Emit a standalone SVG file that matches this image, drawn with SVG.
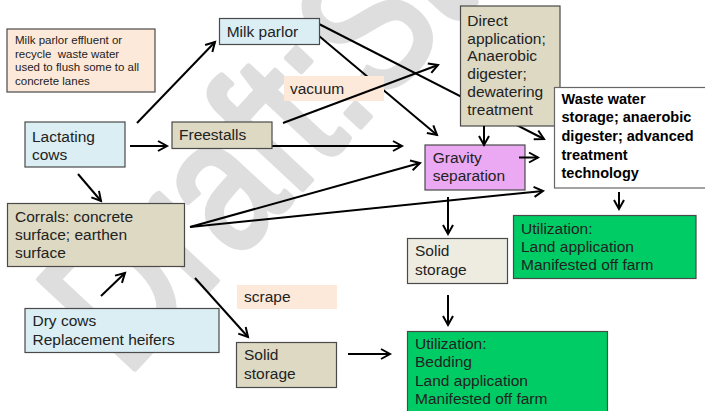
<svg xmlns="http://www.w3.org/2000/svg" width="705" height="411" viewBox="0 0 705 411">
<defs>
<style>
text{font-family:"Liberation Sans",Arial,sans-serif;font-size:15.5px;fill:#222}
.sm{font-size:11.5px}
.bd{font-weight:bold;font-size:14.5px;fill:#000}
.box{stroke:#4a4a4a;stroke-width:1.2}
.blue{fill:#daeef3}
.tan{fill:#ddd9c3}
.peach{fill:#fde9d9}
.green{fill:#00cc66}
.conn{stroke:#000;stroke-width:2;fill:none;marker-end:url(#ah)}
.wm{font-size:190px;fill:#dedede;stroke:#dedede;stroke-width:6;stroke-linejoin:round}
</style>
<marker id="ah" markerUnits="userSpaceOnUse" markerWidth="14" markerHeight="14" viewBox="0 0 14 14" refX="11" refY="7" orient="auto">
<path d="M2,2 L11,7 L2,12" stroke="#000" stroke-width="2" fill="none"/>
</marker>
</defs>
<rect width="705" height="411" fill="#fff"/>
<text class="wm" transform="translate(126,378) rotate(-47) scale(0.8,1)">Draft:St</text>

<g id="connectors-back">
<line class="conn" x1="319" y1="24" x2="544" y2="139"/>
<line class="conn" x1="319" y1="36" x2="437" y2="135"/>
</g>

<g id="vacuum"><rect class="peach" x="284" y="76" width="100" height="25"/><text x="290" y="94">vacuum</text></g>

<g id="connectors">
<line class="conn" x1="137" y1="123" x2="215" y2="42"/>
<line class="conn" x1="130" y1="146" x2="167" y2="146"/>
<line class="conn" x1="78" y1="174" x2="101" y2="201"/>
<line class="conn" x1="283" y1="123" x2="438" y2="65"/>
<line class="conn" x1="272" y1="146" x2="402" y2="146"/>
<line class="conn" x1="190" y1="227" x2="420" y2="163"/>
<line class="conn" x1="190" y1="227" x2="543" y2="191"/>
<line class="conn" x1="448" y1="197" x2="448" y2="234"/>
<line class="conn" x1="619" y1="192" x2="619" y2="209"/>
<line class="conn" x1="448" y1="295" x2="448" y2="325"/>
<line class="conn" x1="348" y1="354" x2="390" y2="354"/>
<line class="conn" x1="195" y1="278" x2="248" y2="337"/>
<line class="conn" x1="101" y1="296" x2="125" y2="273"/>
</g>

<g id="note"><rect class="box peach" x="7" y="29" width="148" height="63"/>
<text class="sm" x="15" y="44">Milk parlor effluent or</text>
<text class="sm" x="15" y="57.5" style="white-space:pre">recycle  waste water</text>
<text class="sm" x="15" y="71">used to flush some to all</text>
<text class="sm" x="15" y="84.5">concrete lanes</text></g>

<g id="lactating"><rect class="box blue" x="25" y="122" width="100" height="45"/>
<text x="32" y="142">Lactating</text><text x="32" y="159.5">cows</text></g>

<g id="milkparlor"><rect class="box blue" x="219.5" y="18.5" width="100" height="26"/>
<text x="226.7" y="36.5">Milk parlor</text></g>

<g id="freestalls"><rect class="box tan" x="172" y="122" width="100" height="26.5"/>
<text x="179" y="140">Freestalls</text></g>

<g id="corrals"><rect class="box tan" x="7.5" y="203.5" width="177" height="63"/>
<text x="15" y="221.5">Corrals: concrete</text><text x="15" y="240">surface; earthen</text><text x="15" y="258">surface</text></g>

<g id="drycows"><rect class="box blue" x="25" y="308.5" width="194" height="44"/>
<text x="32.5" y="326">Dry cows</text><text x="32.5" y="345">Replacement heifers</text></g>

<g id="scrape"><rect class="peach" x="237" y="285" width="100" height="24"/><text x="244" y="302">scrape</text></g>

<g id="solid1"><rect class="box tan" x="236.5" y="342.5" width="100" height="45"/>
<text x="244" y="360">Solid</text><text x="244" y="379">storage</text></g>

<g id="direct"><rect class="box tan" x="460.5" y="6" width="99.5" height="120"/>
<text x="467.3" y="25.7">Direct</text><text x="467.3" y="43.5">application;</text><text x="467.3" y="61.3">Anaerobic</text><text x="467.3" y="79">digester;</text><text x="467.3" y="97">dewatering</text><text x="467.3" y="115">treatment</text></g>

<g id="wastewater"><rect x="554.5" y="87.5" width="152" height="100.5" fill="#fff" stroke="#666" stroke-width="1.2"/>
<text class="bd" x="561.5" y="103.5">Waste water</text><text class="bd" x="561.5" y="122.2">storage; anaerobic</text><text class="bd" x="561.5" y="141">digester; advanced</text><text class="bd" x="561.5" y="159.7">treatment</text><text class="bd" x="561.5" y="178.4">technology</text></g>

<g id="gravity"><rect class="box" fill="#eba9f3" x="425" y="145" width="100" height="45"/>
<text x="432.7" y="163.3">Gravity</text><text x="432.7" y="181">separation</text></g>

<g id="solid2"><rect class="box" fill="#eeece1" x="407.5" y="238.5" width="100" height="45"/>
<text x="415" y="256">Solid</text><text x="415" y="274.5">storage</text></g>

<g id="util1"><rect class="box green" x="513.5" y="215.5" width="182.5" height="63"/>
<text x="521" y="233.5">Utilization:</text><text x="521" y="251.7">Land application</text><text x="521" y="270">Manifested off farm</text></g>

<g id="util2"><rect class="box green" x="407.5" y="331.5" width="200" height="85"/>
<text x="415" y="349">Utilization:</text><text x="415" y="367.3">Bedding</text><text x="415" y="385.7">Land application</text><text x="415" y="403.5">Manifested off farm</text></g>

<g id="connectors-front">
<line class="conn" x1="484" y1="126" x2="484" y2="145"/>
<line class="conn" x1="519" y1="157.5" x2="538" y2="157.5"/>
</g>
</svg>
